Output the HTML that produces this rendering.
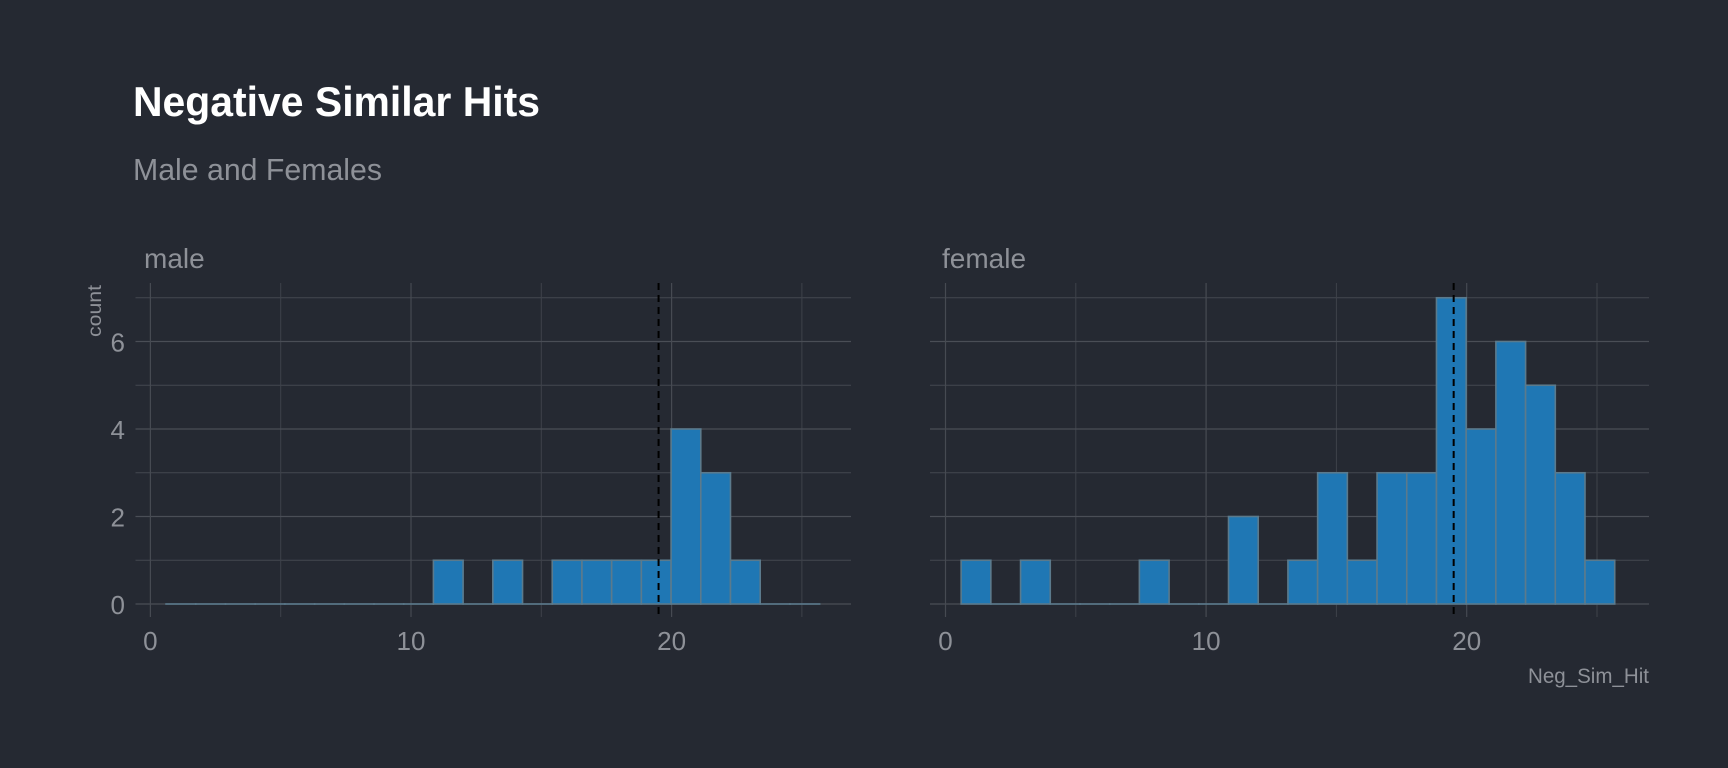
<!DOCTYPE html>
<html><head><meta charset="utf-8"><style>
body{margin:0;background:#252932;}
svg{display:block;font-family:"Liberation Sans",sans-serif;}
</style></head><body>
<svg id="chart" width="1728" height="768" viewBox="0 0 1728 768">
<rect width="1728" height="768" fill="#252932"/>
<text x="133" y="116" font-size="42" font-weight="bold" fill="#ffffff" textLength="407" lengthAdjust="spacingAndGlyphs">Negative Similar Hits</text>
<text x="133" y="180" font-size="31" fill="#8e9198" textLength="249" lengthAdjust="spacingAndGlyphs">Male and Females</text>
<text transform="translate(101,337) rotate(-90)" font-size="19" fill="#8e9198" textLength="52" lengthAdjust="spacingAndGlyphs">count</text>
<text x="1649" y="683" font-size="21" fill="#8e9198" text-anchor="end" textLength="121" lengthAdjust="spacingAndGlyphs">Neg_Sim_Hit</text>
<g id="plots"></g>
</svg>
<script>
const panels = ["male", "female"];
const binStart = 0.6;
const binWidth = 1.14;
const maleCounts = [0,0,0,0,0,0,0,0,0,1,0,1,0,1,1,1,1,4,3,1,0,0];
const femaleCounts = [1,0,1,0,0,0,1,0,0,2,0,1,3,1,3,3,7,4,6,5,3,1];
const meanLine = 19.5;
const xTicks = [0, 10, 20];
const xMinor = [5, 15, 25];
const yTicks = [0, 2, 4, 6];
const yMinor = [1, 3, 5, 7];

const NS = "http://www.w3.org/2000/svg";
const root = document.getElementById("plots");
function mk(tag, attrs, parent){const e=document.createElementNS(NS,tag);for(const k in attrs)e.setAttribute(k,attrs[k]);(parent||root).appendChild(e);return e;}
const layouts = [
  {x0:150.4, left:135.5, right:851, stripX:144},
  {x0:945.5, left:930, right:1649, stripX:942}
];
const yBase = 604, yUnit = 43.75, yTop = 283, yBottom = 617;
function yS(v){return yBase - v*yUnit;}
panels.forEach((p, pi) => {
  const L = layouts[pi];
  const xS = v => L.x0 + v*26.06;
  const counts = pi === 0 ? maleCounts : femaleCounts;
  const g = mk("g", {});
  
  
  const strip = mk("text", {x:L.stripX, y:268, "font-size":28, fill:"#8e9198"}, g);
  strip.textContent = p;
  
  
  yMinor.forEach(v => {
    const l = mk("line", {x1:L.left, x2:L.right, y1:yS(v), y2:yS(v), stroke:"#444850", "stroke-width":1}, g);
    
    
  });
  xMinor.forEach(v => {
    const l = mk("line", {x1:xS(v), x2:xS(v), y1:yTop, y2:yBottom, stroke:"#3e424a", "stroke-width":1}, g);
    
    
  });
  yTicks.forEach(v => {
    const l = mk("line", {x1:L.left, x2:L.right, y1:yS(v), y2:yS(v), stroke:"#4a4e56", "stroke-width":1.2}, g);
    
    
    if (pi === 0) {
      const t = mk("text", {x:125, y:yS(v)+10, "font-size":26, fill:"#8e9198", "text-anchor":"end"}, g);
      t.textContent = v;
      
      
    }
  });
  xTicks.forEach(v => {
    const l = mk("line", {x1:xS(v), x2:xS(v), y1:yTop, y2:yBottom, stroke:"#464a52", "stroke-width":1.2}, g);
    
    
    const t = mk("text", {x:xS(v), y:650, "font-size":26, fill:"#8e9198", "text-anchor":"middle"}, g);
    t.textContent = v;
    
    
  });
  counts.forEach((c, i) => {
    const a = xS(binStart + i*binWidth), b = xS(binStart + (i+1)*binWidth);
    const r = mk("rect", {x:a, y:yS(c), width:b-a, height:Math.max(yBase-yS(c),0.01), fill:"#1f77b4", stroke:"#5b7a8c", "stroke-width":1.6}, g);
    
    
  });
  const m = mk("line", {x1:xS(meanLine), x2:xS(meanLine), y1:yTop, y2:yBottom, stroke:"#000", "stroke-width":2, "stroke-dasharray":"7,5"}, g);
  
  
});
</script>
</body></html>
